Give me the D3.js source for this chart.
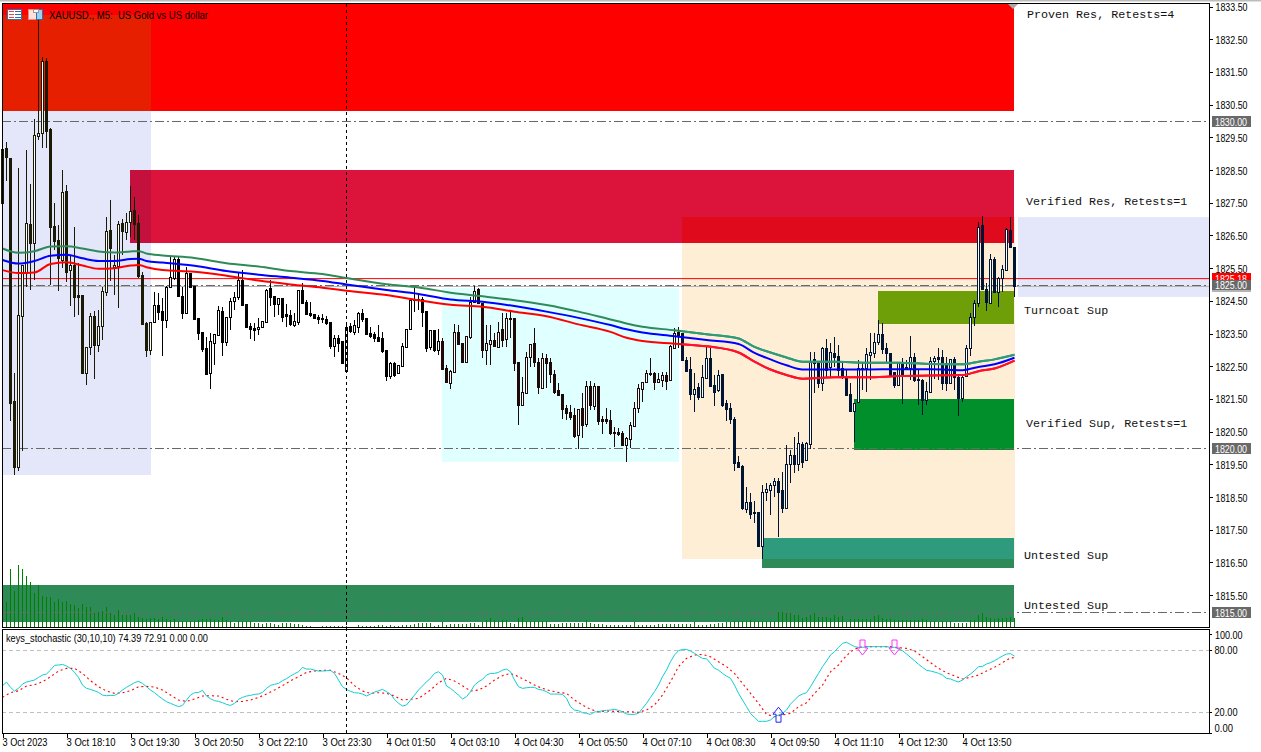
<!DOCTYPE html>
<html><head><meta charset="utf-8">
<script src="https://cdn.jsdelivr.net/npm/d3@7/dist/d3.min.js"></script>
<style>html,body{margin:0;padding:0;background:#fff;overflow:hidden}svg{display:block}</style>
</head><body><svg id="c" width="1261" height="752"></svg>
<script>
const symbolTitle="XAUUSD., M5:  US Gold vs US dollar";
const stochTitle="keys_stochastic (30,10,10) 74.39 72.91 0.00 0.00";
const timeTicks=[0,16,32,48,64,80,96,112,128,144,160,176,192,208,224,240];
const timeLabels=['3 Oct 2023','3 Oct 18:10','3 Oct 19:30','3 Oct 20:50','3 Oct 22:10','3 Oct 23:30','4 Oct 01:50','4 Oct 03:10','4 Oct 04:30','4 Oct 05:50','4 Oct 07:10','4 Oct 08:30','4 Oct 09:50','4 Oct 11:10','4 Oct 12:30','4 Oct 13:50'];
const priceTicks=[1833.5,1832.5,1831.5,1830.5,1829.5,1828.5,1827.5,1826.5,1825.5,1824.5,1823.5,1822.5,1821.5,1820.5,1819.5,1818.5,1817.5,1816.5,1815.5];
const roundLevels=[1830,1825,1820,1815];
const bidPrice=1825.18, askPrice=1824.96;

const opens=[
1829.14,1829.17,1828.87,1821.44,1819.42,1824.04,1825.35,1826.85,1826.27,1829.54,
1829.63,1831.83,1829.76,1826.79,1826.36,1825.75,1827.86,1825.44,1825.60,1824.68,
1824.68,1822.29,1823.09,1824.04,1823.15,1823.73,1824.77,1826.67,1825.54,1825.57,
1826.88,1826.61,1826.91,1827.28,1826.88,1825.29,1823.82,1823.00,1823.85,1824.37,
1824.19,1823.91,1824.92,1825.20,1825.78,1824.65,1824.13,1825.35,1824.95,1823.98,
1823.55,1823.06,1822.29,1823.21,1823.46,1824.19,1823.24,1824.01,1824.50,1824.62,
1825.14,1824.40,1823.73,1823.67,1823.64,1823.70,1823.85,1824.89,1824.65,1824.40,
1824.59,1824.10,1824.07,1823.76,1823.85,1824.83,1824.46,1824.13,1824.10,1824.01,
1823.98,1823.95,1823.85,1823.12,1823.36,1823.27,1822.35,1823.73,1823.55,1823.70,
1824.13,1823.98,1823.52,1823.49,1823.39,1823.36,1823.00,1822.20,1822.60,1822.29,
1822.51,1823.09,1823.64,1824.56,1824.56,1824.56,1824.19,1823.09,1823.61,1823.00,
1823.27,1822.45,1821.99,1822.32,1823.55,1823.21,1822.63,1823.39,1824.46,1824.86,
1824.43,1823.00,1823.18,1823.30,1823.09,1823.64,1823.33,1823.98,1823.98,1822.63,
1821.32,1821.68,1822.78,1823.21,1822.63,1821.84,1822.75,1822.63,1822.26,1821.77,
1821.65,1821.22,1821.10,1821.01,1820.40,1821.22,1820.73,1821.90,1821.28,1821.90,
1820.89,1820.89,1820.86,1820.49,1820.49,1820.46,1820.09,1820.28,1820.67,1821.22,
1821.80,1822.02,1822.29,1822.29,1822.02,1822.08,1822.23,1822.08,1823.06,1823.55,
1823.52,1822.69,1822.42,1821.65,1821.87,1821.56,1822.14,1822.75,1821.93,1821.77,
1822.26,1821.38,1821.22,1820.89,1819.57,1819.45,1818.13,1818.35,1818.04,1818.04,
1817.00,1818.65,1818.72,1818.87,1818.99,1818.72,1818.17,1819.51,1819.79,1819.51,
1820.12,1819.63,1820.12,1822.72,1822.60,1821.99,1823.06,1822.48,1822.91,1822.81,
1822.45,1822.14,1821.65,1821.13,1821.41,1822.45,1822.45,1822.84,1822.91,1823.24,
1823.49,1823.06,1822.91,1822.32,1821.93,1822.57,1822.48,1822.45,1822.78,1822.11,
1822.08,1821.47,1821.71,1822.66,1822.78,1822.78,1822.60,1821.99,1822.72,1822.17,
1821.53,1822.20,1823.06,1824.01,1824.43,1826.82,1824.86,1824.43,1825.78,1824.77,
1825.20,1825.44,1826.67,1826.15];
const highs=[
1829.27,1829.36,1828.87,1822.29,1828.56,1825.60,1829.11,1828.07,1830.06,1833.09,
1831.96,1831.93,1829.79,1827.49,1826.82,1828.50,1828.04,1825.90,1826.76,1825.66,
1824.68,1823.09,1824.13,1824.19,1824.22,1824.92,1827.06,1827.58,1825.90,1826.94,
1827.00,1827.19,1828.01,1827.68,1827.13,1825.38,1823.85,1823.85,1824.77,1824.74,
1824.59,1824.95,1825.84,1825.84,1825.84,1824.92,1825.54,1825.35,1824.95,1823.98,
1823.55,1823.39,1823.52,1823.49,1824.34,1824.31,1824.01,1824.59,1824.77,1825.35,
1825.44,1824.40,1823.82,1823.82,1823.98,1823.88,1824.86,1825.14,1824.65,1824.59,
1824.59,1824.40,1824.22,1824.13,1824.83,1825.05,1824.53,1824.46,1824.10,1824.07,
1824.10,1824.04,1823.85,1823.46,1823.46,1823.27,1823.85,1823.82,1823.91,1824.16,
1824.25,1823.98,1823.70,1823.55,1823.76,1823.55,1823.00,1822.63,1822.63,1822.54,
1823.21,1823.64,1824.59,1824.92,1824.74,1824.62,1824.19,1823.61,1823.61,1823.64,
1823.36,1822.54,1822.39,1823.79,1823.76,1823.21,1823.43,1824.62,1824.95,1824.89,
1824.43,1823.76,1823.76,1823.52,1823.85,1824.13,1824.13,1824.22,1823.98,1822.63,
1822.17,1822.94,1823.18,1823.67,1822.75,1822.91,1822.87,1822.75,1822.39,1821.99,
1821.65,1821.32,1821.32,1821.22,1821.19,1821.68,1822.05,1822.05,1821.99,1821.90,
1820.98,1821.22,1821.16,1820.64,1820.61,1820.52,1820.34,1820.79,1821.41,1821.96,
1822.02,1822.39,1822.75,1822.32,1822.29,1822.32,1822.32,1823.15,1823.67,1823.70,
1823.52,1822.78,1822.78,1822.29,1821.99,1822.54,1823.09,1823.06,1822.23,1822.39,
1822.26,1821.47,1821.38,1820.95,1819.75,1819.48,1818.81,1818.62,1818.38,1818.04,
1818.87,1818.93,1818.93,1819.08,1819.08,1819.27,1820.09,1819.94,1820.34,1820.49,
1820.18,1820.18,1822.94,1822.94,1822.63,1823.09,1823.33,1823.21,1823.39,1823.15,
1822.63,1822.39,1821.99,1821.38,1822.69,1822.60,1823.06,1823.52,1823.52,1823.91,
1823.82,1823.21,1822.91,1822.32,1822.63,1822.75,1822.69,1823.43,1822.91,1822.39,
1822.11,1822.02,1822.78,1822.81,1823.06,1823.00,1822.78,1822.72,1822.78,1822.23,
1822.23,1823.15,1824.13,1824.53,1826.91,1827.09,1825.05,1825.93,1825.84,1825.23,
1825.60,1826.73,1827.06,1826.15];
const lows=[
1827.43,1828.16,1820.83,1819.17,1819.30,1819.91,1824.92,1824.83,1825.14,1829.42,
1829.17,1829.17,1824.98,1826.05,1824.80,1825.50,1825.08,1824.34,1824.01,1824.07,
1822.29,1821.93,1822.84,1822.11,1822.94,1823.30,1824.65,1825.11,1824.68,1824.28,
1825.90,1826.36,1826.45,1826.36,1825.20,1823.79,1822.78,1822.84,1823.85,1823.91,
1822.81,1823.67,1824.89,1825.14,1824.62,1823.95,1824.13,1824.92,1823.95,1823.30,
1822.94,1822.23,1821.80,1822.54,1823.43,1822.81,1823.12,1823.61,1824.22,1824.53,
1824.37,1823.70,1823.33,1823.27,1823.46,1823.70,1823.82,1824.34,1824.01,1824.07,
1823.85,1823.70,1823.73,1823.70,1823.76,1824.40,1824.10,1824.01,1823.98,1823.79,
1823.82,1823.76,1823.03,1822.78,1822.94,1822.57,1822.32,1823.52,1823.46,1823.52,
1823.85,1823.49,1823.36,1823.24,1823.27,1822.91,1822.05,1822.11,1822.17,1822.26,
1822.48,1823.09,1823.61,1824.16,1824.22,1823.70,1822.94,1823.00,1822.94,1822.84,
1822.42,1821.99,1821.80,1822.32,1823.18,1822.60,1822.63,1823.33,1824.43,1824.43,
1822.75,1822.54,1822.54,1823.09,1823.09,1823.09,1823.09,1823.36,1822.35,1820.70,
1821.28,1821.65,1822.48,1822.48,1821.65,1821.80,1821.84,1821.99,1821.65,1821.59,
1820.89,1820.86,1820.86,1820.31,1819.97,1820.31,1820.64,1821.16,1821.16,1820.70,
1820.43,1820.73,1820.40,1820.03,1820.37,1820.09,1819.57,1820.00,1820.67,1821.07,
1821.41,1822.02,1822.20,1821.77,1821.99,1821.87,1821.77,1822.05,1823.06,1823.06,
1822.66,1822.32,1821.47,1821.10,1821.47,1821.53,1822.14,1821.90,1821.28,1821.71,
1821.25,1820.83,1820.73,1819.30,1819.39,1818.10,1818.01,1817.83,1817.71,1817.00,
1816.61,1818.38,1817.95,1818.50,1817.28,1818.01,1818.17,1818.93,1819.24,1819.30,
1819.39,1819.63,1819.97,1821.68,1821.84,1821.74,1822.17,1822.17,1822.48,1822.14,
1822.11,1821.62,1821.13,1820.18,1821.38,1821.77,1821.71,1822.08,1822.75,1823.15,
1822.87,1822.63,1822.17,1821.84,1821.90,1821.35,1822.39,1822.08,1822.02,1821.32,
1821.01,1821.32,1821.68,1822.11,1822.08,1821.77,1821.74,1821.96,1821.77,1820.98,
1821.41,1822.17,1822.81,1823.73,1824.31,1824.86,1824.19,1824.40,1824.77,1824.31,
1824.77,1825.41,1826.15,1824.62];
const closes=[
1827.49,1828.90,1821.38,1819.42,1824.07,1825.60,1826.88,1826.27,1829.57,1829.63,
1831.83,1829.69,1826.76,1826.33,1825.81,1827.83,1825.38,1825.60,1824.62,1824.62,
1822.29,1823.09,1824.04,1823.15,1823.73,1824.80,1826.64,1826.12,1825.60,1826.85,
1826.64,1826.91,1827.25,1826.85,1825.26,1823.79,1823.00,1823.85,1824.37,1824.16,
1823.91,1824.92,1825.23,1825.78,1824.65,1824.13,1825.35,1824.92,1823.95,1823.52,
1823.03,1822.26,1823.27,1823.49,1824.22,1823.24,1824.01,1824.50,1824.62,1825.14,
1824.37,1823.70,1823.64,1823.61,1823.70,1823.88,1824.83,1824.62,1824.40,1824.59,
1824.01,1824.04,1823.79,1823.88,1824.83,1824.43,1824.10,1824.07,1823.98,1823.95,
1823.95,1823.82,1823.12,1823.36,1823.21,1822.60,1823.70,1823.58,1823.76,1824.13,
1823.95,1823.49,1823.43,1823.36,1823.27,1822.97,1822.20,1822.60,1822.23,1822.54,
1823.12,1823.64,1824.53,1824.53,1824.53,1824.16,1823.06,1823.61,1823.00,1823.27,
1822.42,1822.02,1822.35,1823.55,1823.18,1822.63,1823.43,1824.46,1824.80,1824.43,
1823.00,1823.21,1823.30,1823.12,1823.55,1823.30,1823.98,1823.95,1822.60,1821.32,
1821.71,1822.78,1823.18,1822.63,1821.87,1822.75,1822.60,1822.26,1821.71,1821.62,
1821.19,1821.07,1820.95,1820.37,1821.19,1820.70,1821.90,1821.32,1821.90,1820.83,
1820.83,1820.83,1820.46,1820.46,1820.43,1820.09,1820.31,1820.70,1821.22,1821.84,
1822.02,1822.29,1822.26,1822.02,1822.11,1822.23,1822.05,1823.12,1823.52,1823.46,
1822.69,1822.35,1821.65,1821.80,1821.56,1822.17,1822.75,1821.90,1821.71,1822.23,
1821.32,1821.19,1820.89,1819.54,1819.42,1818.17,1818.35,1817.98,1818.02,1817.00,
1818.65,1818.75,1818.87,1818.99,1818.65,1818.17,1819.51,1819.79,1819.51,1820.15,
1819.57,1820.15,1822.63,1822.60,1821.99,1823.06,1822.39,1822.94,1822.78,1822.39,
1822.17,1821.62,1821.13,1821.38,1822.45,1822.42,1822.87,1822.94,1823.24,1823.49,
1823.03,1822.91,1822.23,1821.93,1822.60,1822.23,1822.42,1822.78,1822.08,1822.08,
1821.47,1821.74,1822.66,1822.75,1822.72,1821.99,1821.99,1822.72,1822.17,1821.53,
1822.17,1823.06,1824.01,1824.43,1826.76,1824.86,1824.46,1825.78,1824.77,1825.20,
1825.47,1826.70,1826.15,1824.94];

const volumes=[
20,25,58,36,62,58,51,45,34,42, 31,30,30,25,28,25,26,23,22,19,
23,20,20,14,15,16,20,15,12,17, 12,12,12,15,10,9,8,9,9,8,
10,8,7,8,6,6,6,6,6,7, 8,8,8,7,7,10,7,6,4,6,
6,6,6,4,4,3,4,4,3,2, 4,4,4,3,3,2,1,1,0,0,
1,1,1,1,1,1,1,0,0,2, 1,1,1,1,2,2,1,2,1,1,
2,2,2,3,4,4,4,4,1,2, 5,2,3,3,3,3,3,4,4,2,
5,7,9,7,6,7,7,4,3,9, 10,6,6,6,6,6,6,3,3,3,
4,4,4,4,4,4,7,4,3,3, 3,2,2,2,2,2,2,2,5,2,
2,2,2,2,3,3,3,3,3,3, 3,3,3,5,2,2,2,3,3,4,
4,5,5,6,6,6,6,7,6,6, 6,6,6,6,15,15,14,14,12,12,
9,10,12,15,10,10,10,9,12,10, 11,5,8,8,8,8,8,8,11,12,
9,8,8,7,7,7,7,7,7,7, 8,7,6,6,5,6,6,6,4,4,
4,4,7,7,12,14,10,9,8,9, 9,9,10,9];

const maBars=[0,4,8,12,16,20,24,28,32,34,36,40,48,56,64,72,80,86,96,104,112,120,128,136,144,152,156,160,168,176,184,188,192,196,200,208,216,224,232,240,244,248,253];
const maGreen=[1826.10,1825.97,1826.02,1826.16,1826.17,1826.10,1826.01,1825.98,1826.01,1826.02,1825.95,1825.89,1825.81,1825.65,1825.55,1825.41,1825.32,1825.20,1825.01,1824.91,1824.75,1824.64,1824.52,1824.37,1824.17,1823.93,1823.81,1823.71,1823.60,1823.48,1823.35,1823.09,1822.92,1822.77,1822.64,1822.64,1822.61,1822.61,1822.57,1822.56,1822.64,1822.71,1822.85];
const maBlue=[1825.75,1825.64,1825.72,1825.88,1825.91,1825.80,1825.72,1825.72,1825.78,1825.79,1825.72,1825.67,1825.57,1825.41,1825.30,1825.21,1825.11,1825.00,1824.83,1824.71,1824.54,1824.47,1824.34,1824.17,1823.98,1823.76,1823.63,1823.53,1823.42,1823.30,1823.18,1822.91,1822.71,1822.53,1822.40,1822.40,1822.40,1822.41,1822.41,1822.38,1822.48,1822.56,1822.76];
const maRed=[1825.44,1825.35,1825.37,1825.63,1825.68,1825.58,1825.48,1825.50,1825.58,1825.60,1825.53,1825.44,1825.39,1825.27,1825.12,1825.00,1824.90,1824.81,1824.68,1824.52,1824.38,1824.32,1824.17,1824.03,1823.78,1823.55,1823.37,1823.27,1823.19,1823.11,1822.92,1822.64,1822.40,1822.23,1822.12,1822.16,1822.16,1822.20,1822.22,1822.23,1822.35,1822.43,1822.67];

const stochMain=[
45.8,49.3,44.2,40.6,43.2,47.4,49.3,50.3,51.3,53.8,
56.1,57.1,60.9,65.5,65.8,66.4,64.8,62.6,58.7,53.8,
46.4,43.2,42.2,40.9,39.3,36.7,36.1,36.4,36.4,38.4,
41.6,44.2,46.4,48.7,50.0,48.0,44.8,41.6,39.0,35.8,
32.9,30.3,28.7,27.1,25.5,26.7,31.9,36.7,39.0,39.3,
41.3,35.8,33.2,31.3,30.6,29.3,27.7,26.7,28.7,32.6,
34.5,35.8,36.4,37.4,37.7,39.3,43.2,46.1,47.1,48.0,
50.6,52.6,55.1,57.4,59.3,63.5,61.9,61.9,60.9,60.0,
60.0,60.3,60.6,57.7,51.3,44.8,42.2,40.3,39.0,38.7,
37.7,35.8,37.7,39.6,40.9,42.2,40.0,37.7,32.6,28.7,
26.1,27.1,31.9,36.7,41.6,45.5,49.6,52.9,57.7,59.3,
56.1,45.5,43.2,40.0,36.7,32.9,35.1,40.0,46.4,49.6,
51.9,56.1,57.7,57.7,58.7,60.9,61.9,59.3,51.3,44.8,
43.2,43.8,44.2,44.2,42.2,41.6,40.0,37.7,37.7,37.7,
37.4,33.5,25.5,22.2,21.6,19.6,19.0,18.0,20.3,20.6,
21.6,21.9,22.2,22.9,21.9,20.6,18.4,18.0,18.0,19.0,
23.8,28.7,34.5,40.0,46.4,54.5,60.9,69.0,75.5,79.7,
80.9,80.9,79.3,77.1,74.5,72.2,71.9,67.4,62.6,60.9,
57.7,55.1,52.9,46.4,38.4,31.9,25.5,19.0,15.1,11.3,
11.3,11.3,12.6,15.8,17.4,19.0,22.2,28.0,31.9,35.8,
37.7,39.0,44.8,51.3,57.7,64.2,69.7,75.5,78.7,82.9,
86.8,87.8,85.8,83.6,82.9,82.9,83.6,83.6,83.6,83.6,
83.6,83.6,82.9,82.9,81.6,79.7,76.5,73.2,70.0,66.5,
63.6,60.7,60.0,59.0,57.8,56.1,52.9,52.3,50.7,49.4,
51.3,54.5,57.1,60.3,64.2,64.5,66.8,68.1,70.0,72.3,
74.5,76.5,76.8,74.39];
const signalBars=[0,2,4,6,8,10,12,14,16,18,20,22,24,26,28,30,32,34,36,38,40,42,44,46,48,50,52,54,56,58,60,62,64,66,68,70,72,74,76,78,80,82,84,86,88,90,92,94,96,98,100,102,
104,105,107,109,111,113,115,117,119,121,123,125,127,129,131,133,135,137,139,141,143,145,147,149,151,153,155,157,159,161,163,165,167,169,171,173,175,177,179,181,183,185,187,189,191,193,195,197,199,201,203,205,207,209,
210,212,214,216,218,220,222,224,226,228,230,232,234,236,238,240,242,244,246,248,250,252,253];
const stochSignal=[34.5,39.0,40.9,45.5,46.7,49.6,54.5,60.0,62.6,62.6,57.7,50.6,44.8,40.6,38.4,39.0,40.9,44.8,45.1,44.5,41.6,36.7,31.9,30.6,32.9,35.8,36.1,35.8,32.6,30.3,30.6,31.9,34.5,37.7,41.6,45.8,50.6,54.5,58.7,60.0,60.6,60.6,57.7,53.5,45.8,40.6,38.4,39.0,38.4,35.8,31.9,32.6,
33.5,36.1,41.6,48.7,52.9,50.3,45.8,40.6,41.6,45.5,51.3,55.5,57.7,54.5,50.6,46.4,43.2,40.9,39.3,38.4,31.9,27.1,22.9,20.6,21.3,20.9,20.6,20.6,20.0,22.2,27.1,36.7,49.6,64.2,72.2,75.5,76.1,73.8,69.0,64.2,57.7,48.0,38.4,28.7,18.0,15.8,17.4,19.0,25.5,29.3,38.4,46.4,59.3,65.8,
70.7,78.7,82.9,83.6,83.6,83.6,83.6,82.6,81.9,79.4,73.9,68.1,62.6,58.4,55.2,52.3,53.9,56.1,60.0,63.6,68.1,72.6,72.91];
const stochLevels=[80,20];
const stochLabels=[["100.00",100],["80.00",80],["20.00",20],["0.00",0]];
const upArrowBars=[194], downArrowBars=[215,223];

const zoneBands=[
 {name:"lav",from:0,to:37,top:1833.24,bot:1819.17,fill:"#e4e6fa"},
 {name:"cyan",from:110,to:169,top:1824.89,bot:1819.57,fill:"#e0ffff"},
 {name:"orange",from:170,to:253,top:1827.06,bot:1816.61,fill:"#feeed6"},
 {name:"red",from:0,to:253,top:1833.58,bot:1830.31,fill:"#ff0000"},
 {name:"crimson",from:32,to:253,top:1828.50,bot:1826.27,fill:"#dc143c"},
 {name:"olive",from:219,to:253,top:1824.80,bot:1823.79,fill:"#6e9e08"},
 {name:"green",from:213,to:253,top:1821.50,bot:1819.94,fill:"#008f2a"},
 {name:"teal",from:190,to:253,top:1817.25,bot:1816.34,fill:"#2e8b57"},
 {name:"sea",from:0,to:253,top:1815.81,bot:1814.68,fill:"#2e8b57"}
];
const zoneOverlaps=[["lav","red","#e61f00"],["lav","crimson","#c4103c"],["orange","crimson","#df0a1c"],["orange","teal","#2e9c7c"]];
const zoneTexts=[["Proven Res, Retests=4",1027,1833.15],["Verified Res, Retests=1",1026,1827.43],["Turncoat Sup",1024,1824.11],["Verified Sup, Retests=1",1026,1820.64],["Untested Sup",1024,1816.61],["Untested Sup",1024,1815.08]];

const MONO='"Liberation Mono",monospace', SANS='"Liberation Sans",sans-serif';
const svg=d3.select("#c");
const x=d3.scaleLinear().domain([0,253]).range([2.5,1014.5]);
const y=d3.scaleLinear().domain([1830,1815]).range([121,611.5]);
const yVol=d3.scaleLinear().domain([0,62]).range([627,565]);
const yS=d3.scaleLinear().domain([0,100]).range([733,629.7]);

// window chrome
svg.append("rect").attr("width",1261).attr("height",1.5).attr("fill","#bdbdbd");

// zones
const main=svg.append("g");
const zr=z=>({x:x(z.from)-0.5,y:Math.round(y(z.top)),w:x(z.to)-x(z.from)+(z.to==253&&z.name!="orange"?0:1),h:Math.round(y(z.bot))-Math.round(y(z.top))});
main.selectAll(".z").data(zoneBands).join("rect").attr("class","z")
 .attr("x",d=>zr(d).x).attr("y",d=>zr(d).y).attr("width",d=>zr(d).w).attr("height",d=>zr(d).h).attr("fill",d=>d.fill);
zoneOverlaps.forEach(([a,b,c])=>{
 const A=zr(zoneBands.find(z=>z.name==a)),B=zr(zoneBands.find(z=>z.name==b));
 const l=Math.max(A.x,B.x),r=Math.min(A.x+A.w,B.x+B.w),t=Math.max(A.y,B.y),e=Math.min(A.y+A.h,B.y+B.h);
 main.append("rect").attr("x",l).attr("y",t).attr("width",r-l).attr("height",e-t).attr("fill",c);
});
// right lavender block
main.append("rect").attr("x",1018).attr("y",y(1827.06)).attr("width",191).attr("height",y(1824.62)-y(1827.06)).attr("fill","#e4e6fa");

// volumes
main.append("g").selectAll("line").data(volumes).join("line")
 .attr("x1",(d,i)=>x(i)).attr("x2",(d,i)=>x(i)).attr("y1",627).attr("y2",d=>yVol(d))
 .attr("stroke","#008000").attr("stroke-width",1).attr("shape-rendering","crispEdges");

// round-number lines, price lines
main.append("g").selectAll("line").data(roundLevels).join("line")
 .attr("x1",2).attr("x2",1209).attr("y1",d=>Math.round(y(d))+.5).attr("y2",d=>Math.round(y(d))+.5)
 .attr("stroke","#696969").attr("stroke-dasharray","9 3 2 3").attr("shape-rendering","crispEdges");
main.append("line").attr("x1",2).attr("x2",1209).attr("y1",y(bidPrice)).attr("y2",y(bidPrice)).attr("stroke","#ff0000");
main.append("line").attr("x1",2).attr("x2",1209).attr("y1",Math.round(y(askPrice))+.5).attr("y2",Math.round(y(askPrice))+.5).attr("stroke","#b4b4b4").attr("shape-rendering","crispEdges");

// candles
const candleColor=i=>{
 const X=x(i), yb=y((opens[i]+closes[i])/2);
 if(X<151) return "#1a1a05";
 if(X>=682) return "#001433";
 if(X>=442&&yb>288) return "#1e0808";
 return "#000";
};
const candles=d3.range(opens.length);
const cg=main.append("g").attr("shape-rendering","crispEdges");
cg.selectAll(".w").data(candles).join("line").attr("class","w")
 .attr("x1",i=>x(i)).attr("x2",i=>x(i)).attr("y1",i=>y(highs[i])).attr("y2",i=>y(lows[i]))
 .attr("stroke",candleColor);
cg.selectAll(".b").data(candles).join("rect").attr("class","b")
 .attr("x",i=>x(i)-1).attr("width",2)
 .attr("y",i=>Math.round(y(Math.max(opens[i],closes[i])))+.5)
 .attr("height",i=>Math.max(1,Math.round(y(Math.min(opens[i],closes[i])))-Math.round(y(Math.max(opens[i],closes[i])))))
 .attr("fill",i=>closes[i]>=opens[i]?"#fff":candleColor(i))
 .attr("stroke",candleColor);

// moving averages
const maLine=d3.line().x((d,i)=>x(maBars[i])).y(d=>y(d)).curve(d3.curveMonotoneX);
[[maGreen,"#2e8b57"],[maBlue,"#0000ff"],[maRed,"#ff0000"]].forEach(([a,c])=>{
 main.append("path").attr("d",maLine(a)).attr("fill","none").attr("stroke",c).attr("stroke-width",2);
});
svg.append("clipPath").attr("id","oc").append("rect").attr("x",682).attr("y",0).attr("width",333).attr("height",600);
[[maGreen,"#2e9c7c"],[maRed,"#ff1030"]].forEach(([a,c])=>{
 main.append("path").attr("clip-path","url(#oc)").attr("d",maLine(a)).attr("fill","none").attr("stroke",c).attr("stroke-width",2);
});

// zone labels
svg.append("g").selectAll("text").data(zoneTexts).join("text")
 .attr("x",d=>d[1]).attr("y",d=>y(d[2])).text(d=>d[0])
 .attr("font-family",MONO).attr("font-size",11.7).attr("fill","#111");

// stochastic pane
const sub=svg.append("g");
sub.selectAll(".lv").data(stochLevels).join("line").attr("class","lv")
 .attr("x1",2).attr("x2",1209).attr("y1",d=>Math.round(yS(d))+.5).attr("y2",d=>Math.round(yS(d))+.5)
 .attr("stroke","#c0c0c0").attr("stroke-dasharray","4 3").attr("shape-rendering","crispEdges");
sub.append("path").attr("d",d3.line().x((d,i)=>x(signalBars[i])).y(d=>yS(d))(stochSignal))
 .attr("fill","none").attr("stroke","#ff0000").attr("stroke-width",1.1).attr("stroke-dasharray","2 3");
sub.append("path").attr("d",d3.line().x((d,i)=>x(i)).y(d=>yS(d))(stochMain))
 .attr("fill","none").attr("stroke","#10cdd2").attr("stroke-width",1);
const arrow=d3.line();
sub.selectAll(".up").data(upArrowBars).join("path").attr("class","up")
 .attr("d",i=>{const c=x(i),t=yS(25);return arrow([[c,t],[c+5.5,t+7],[c+2.5,t+7],[c+2.5,t+15],[c-2.5,t+15],[c-2.5,t+7],[c-5.5,t+7]])+"Z";})
 .attr("fill","none").attr("stroke","#2222ff").attr("stroke-width",1);
sub.selectAll(".dn").data(downArrowBars).join("path").attr("class","dn")
 .attr("d",i=>{const c=x(i),b=yS(75.5);return arrow([[c,b],[c+5.5,b-7],[c+2.5,b-7],[c+2.5,b-15],[c-2.5,b-15],[c-2.5,b-7],[c-5.5,b-7]])+"Z";})
 .attr("fill","none").attr("stroke","#ff33ff").attr("stroke-width",1);

// frames
const frame=svg.append("g").attr("stroke","#000").attr("fill","none").attr("shape-rendering","crispEdges");
frame.append("path").attr("d","M2.5,3.5H1209.5V627.5H2.5Z");
frame.append("path").attr("d","M2.5,629.5H1209.5V733.5H2.5Z");

// crosshair
svg.append("line").attr("x1",346.5).attr("x2",346.5).attr("y1",4).attr("y2",733)
 .attr("stroke","#000").attr("stroke-dasharray","3 3").attr("shape-rendering","crispEdges");

// chart shift marker
svg.append("path").attr("d","M1008,4H1018L1013,9Z").attr("fill","#a8a8a8");

// price axis
const priceAxis=d3.axisRight(y).tickValues(priceTicks).tickSize(3).tickFormat(d3.format(".2f"));
const ga=svg.append("g").attr("transform","translate(1209.5,0)").call(priceAxis);
ga.select(".domain").remove();
ga.selectAll("line").attr("stroke","#000").attr("shape-rendering","crispEdges");
ga.selectAll("text").attr("x",6).attr("dy",null).attr("dominant-baseline","central").attr("font-family",SANS).attr("font-size",11).attr("fill","#000").attr("textLength",32).attr("lengthAdjust","spacingAndGlyphs");

// price tags
const tag=(yc,h,fill,txt,tc)=>{
 svg.append("rect").attr("x",1212).attr("y",yc-h/2).attr("width",39).attr("height",h).attr("fill",fill);
 if(txt) svg.append("text").attr("x",1215).attr("y",yc).attr("dominant-baseline","central").text(txt).attr("font-family",SANS).attr("font-size",11).attr("fill",tc).attr("textLength",32).attr("lengthAdjust","spacingAndGlyphs");
};
[1830,1820,1815].forEach(v=>tag(Math.round(y(v))+.5,11,"#696969",d3.format(".2f")(v),"#fff"));
tag(279,12,"#ff0000",d3.format(".2f")(bidPrice),"#fff");
tag(286,12,"#b4b4b4");
tag(285,10,"#696969",d3.format(".2f")(1825),"#fff");

// stochastic axis
svg.selectAll(".sl").data(stochLabels).join("text").attr("class","sl")
 .attr("x",d=>d[1]==100?1215:1214.5)
 .attr("y",d=>d[1]==100?634.5:d[1]==0?727.5:yS(d[1]))
 .attr("dominant-baseline","central").text(d=>d[0])
 .attr("font-family",SANS).attr("font-size",11).attr("fill","#000")
 .attr("textLength",d=>d[0].length*4.6).attr("lengthAdjust","spacingAndGlyphs");
svg.selectAll(".st").data([634.5,650.5,712.5,733]).join("line").attr("class","st")
 .attr("x1",1209).attr("x2",1212).attr("y1",d=>d).attr("y2",d=>d).attr("stroke","#000").attr("shape-rendering","crispEdges");

// time axis
const timeAxis=d3.axisBottom(x).tickValues(timeTicks).tickSize(4).tickFormat((d,i)=>timeLabels[i]);
const gt=svg.append("g").attr("transform","translate(0,733.5)").call(timeAxis);
gt.select(".domain").remove();
gt.selectAll("line").attr("stroke","#000").attr("shape-rendering","crispEdges");
gt.selectAll("text").attr("text-anchor","start").attr("x",-0.5).attr("y",8.5).attr("dy",null).attr("dominant-baseline","central")
 .attr("font-family",SANS).attr("font-size",11).attr("fill","#000")
 .attr("textLength",function(d,i){return i==0?45:49;}).attr("lengthAdjust","spacingAndGlyphs");

// titles
svg.append("text").attr("x",49).attr("y",14.5).attr("dominant-baseline","central").text(symbolTitle)
 .attr("font-family",SANS).attr("font-size",11).attr("fill","#000").attr("textLength",159).attr("lengthAdjust","spacingAndGlyphs").attr("xml:space","preserve");
svg.append("text").attr("x",6).attr("y",638).attr("dominant-baseline","central").text(stochTitle)
 .attr("font-family",SANS).attr("font-size",11).attr("fill","#000").attr("textLength",202).attr("lengthAdjust","spacingAndGlyphs");

// toolbar icons
const ic=svg.append("g").attr("shape-rendering","crispEdges");
ic.append("rect").attr("x",7.5).attr("y",9.5).attr("width",14).attr("height",9.5).attr("fill","#fff").attr("stroke","#3a6ea5");
[11.5,14.5,17.5].forEach(v=>{
 ic.append("line").attr("x1",9).attr("x2",14).attr("y1",v).attr("y2",v).attr("stroke","#e04a3a");
 ic.append("line").attr("x1",15).attr("x2",21).attr("y1",v).attr("y2",v).attr("stroke","#2c6fb0");
});
ic.append("rect").attr("x",28.5).attr("y",9.5).attr("width",8).attr("height",9.5).attr("fill","#fde0d8").attr("stroke","#e88");
ic.append("rect").attr("x",36.5).attr("y",9.5).attr("width",6).attr("height",9.5).attr("fill","#9fd0ee").attr("stroke","#2c6fb0");
ic.append("rect").attr("x",33).attr("y",9).attr("width",5).attr("height",3).attr("fill","#fff").attr("stroke","#999");
</script></body></html>
